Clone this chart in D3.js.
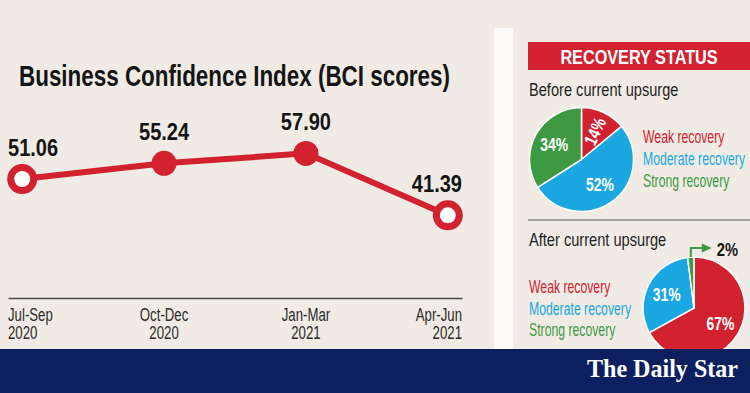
<!DOCTYPE html>
<html>
<head>
<meta charset="utf-8">
<script src="https://cdn.jsdelivr.net/npm/d3@7"></script>
<style>
body { margin: 0; background: #f0ece5; }
svg { display: block; }
text { font-family: "Liberation Sans", Arial, sans-serif; }
</style>
</head>
<body>
<script>
var width = 750, height = 393;

/** line chart data **/
var quarters = ["Jul-Sep", "Oct-Dec", "Jan-Mar", "Apr-Jun"];
var years = ["2020", "2020", "2021", "2021"];
var bciScores = [51.06, 55.24, 57.90, 41.39];

/** pie data **/
var recoveryLabels = ["Weak recovery", "Moderate recovery", "Strong recovery"];
var beforeShares = [14, 52, 34];
var afterShares = [67, 31, 2];

var red = "#d2212f", blue = "#1ba7e2", green = "#3d9a43";
var colors = [red, blue, green];

var svg = d3.select("body").append("svg")
    .attr("width", width).attr("height", height);

svg.append("rect").attr("width", width).attr("height", height).attr("fill", "#f0ece5");

// the original face is a condensed one: work out how much to squeeze ours
function natural(t, size, weight) {
    var n = svg.append("text").attr("font-size", size).attr("font-weight", weight).text(t);
    var w = n.node().getComputedTextLength();
    n.remove();
    return w;
}
var kBold = 431 / natural("Business Confidence Index (BCI scores)", 29, "bold");
var kReg = 102 / natural("Moderate recovery", 17.5, "normal");

function squeeze(sel, mult) {
    sel.each(function () {
        var s = d3.select(this);
        var k = (s.attr("font-weight") == "bold" ? kBold : kReg) * (mult || 1);
        s.attr("textLength", this.getComputedTextLength() * k).attr("lengthAdjust", "spacingAndGlyphs");
    });
}

/** title **/
svg.append("text")
    .attr("x", 19).attr("y", 85.5)
    .attr("font-size", 29).attr("font-weight", "bold").attr("fill", "#151515")
    .text("Business Confidence Index (BCI scores)")
    .call(squeeze);

/** line chart **/
var x = d3.scalePoint().domain(quarters).range([8, 462]).padding(0.1);
var y = d3.scaleLinear().domain([40, 60]).range([220.5, 145.5]);

var axis = svg.append("g")
    .attr("transform", "translate(0,298)")
    .call(d3.axisBottom(x).tickSize(0).tickSizeOuter(0).tickFormat(""));
axis.select(".domain").attr("stroke", "#4a4a4a").attr("stroke-width", 1.6);
axis.selectAll(".tick text").remove();

var last = quarters.length - 1;
function anchorOf(i) { return i == 0 ? "start" : i == last ? "end" : "middle"; }
function labelX(i) { return i == 0 ? x.range()[0] : i == last ? x.range()[1] : x(quarters[i]); }

quarters.forEach(function (q, i) {
    [q, years[i]].forEach(function (t, j) {
        svg.append("text")
            .attr("x", labelX(i)).attr("y", 320.5 + j * 18)
            .attr("text-anchor", anchorOf(i))
            .attr("font-size", 17.5).attr("font-weight", "normal").attr("fill", "#2b2b2b")
            .text(t)
            .call(squeeze, 1.08);
    });
});

var line = d3.line()
    .x(function (d, i) { return x(quarters[i]); })
    .y(function (d) { return y(d); });

svg.append("path")
    .datum(bciScores)
    .attr("d", line)
    .attr("fill", "none")
    .attr("stroke", red)
    .attr("stroke-width", 6);

svg.selectAll("circle.pt")
    .data(bciScores)
    .enter().append("circle")
    .attr("class", "pt")
    .attr("cx", function (d, i) { return x(quarters[i]); })
    .attr("cy", function (d) { return y(d); })
    .attr("r", function (d, i) { return (i == 0 || i == last) ? 11.5 : 12.5; })
    .attr("fill", function (d, i) { return (i == 0 || i == last) ? "#fff" : red; })
    .attr("stroke", red)
    .attr("stroke-width", function (d, i) { return (i == 0 || i == last) ? 7 : 0; });

bciScores.forEach(function (v, i) {
    svg.append("text")
        .attr("x", labelX(i)).attr("y", y(v) - 23)
        .attr("text-anchor", anchorOf(i))
        .attr("font-size", 24).attr("font-weight", "bold").attr("fill", "#151515")
        .text(v.toFixed(2))
        .call(squeeze, 1.08);
});

/** right panel **/
svg.append("rect").attr("x", 494).attr("y", 28).attr("width", 19).attr("height", 322).attr("fill", "#fcfbf9");

svg.append("rect").attr("x", 528).attr("y", 42).attr("width", 222).attr("height", 28).attr("fill", red);
svg.append("text")
    .attr("x", 639).attr("y", 64).attr("text-anchor", "middle")
    .attr("font-size", 21).attr("font-weight", "bold").attr("fill", "#fff")
    .text("RECOVERY STATUS")
    .call(squeeze);

function subtitle(t, yy) {
    svg.append("text")
        .attr("x", 529).attr("y", yy)
        .attr("font-size", 19).attr("font-weight", "normal").attr("fill", "#1e1e1e")
        .text(t)
        .call(squeeze, 1.1);
}
subtitle("Before current upsurge", 95.5);
subtitle("After current upsurge", 246);

svg.append("line")
    .attr("x1", 528).attr("x2", 750).attr("y1", 220).attr("y2", 220)
    .attr("stroke", "#8a8a8a").attr("stroke-width", 1.5);

function legend(lx, ly, step) {
    recoveryLabels.forEach(function (t, i) {
        svg.append("text")
            .attr("x", lx).attr("y", ly + i * step)
            .attr("font-size", 17.5).attr("font-weight", "normal").attr("fill", colors[i])
            .text(t)
            .call(squeeze);
    });
}
legend(643, 143, 22);
legend(529, 293, 21.5);

var pie = d3.pie().sort(null).value(function (d) { return d; });

function drawPie(shares, cx, cy, r) {
    var g = svg.append("g").attr("transform", "translate(" + cx + "," + cy + ")");
    var arc = d3.arc().innerRadius(0).outerRadius(r);
    var labelArc = d3.arc().innerRadius(r * 0.6).outerRadius(r * 0.6);
    var arcs = pie(shares);

    g.selectAll("path")
        .data(arcs)
        .enter().append("path")
        .attr("d", arc)
        .attr("fill", function (d, i) { return colors[i]; })
        .attr("stroke", "#fff")
        .attr("stroke-width", 1.5);

    g.selectAll("text")
        .data(arcs.filter(function (d) { return d.data >= 5; }))
        .enter().append("text")
        .attr("transform", function (d) {
            var c = labelArc.centroid(d);
            var s = "translate(" + c + ")";
            if (d.data < 20) s += " rotate(" + ((d.startAngle + d.endAngle) / 2 * 180 / Math.PI - 90) + ")";
            return s;
        })
        .attr("text-anchor", "middle")
        .attr("dy", "0.36em")
        .attr("font-size", 18).attr("font-weight", "bold").attr("fill", "#fff")
        .text(function (d) { return d.data + "%"; })
        .call(squeeze);

    // callout for slivers
    arcs.filter(function (d) { return d.data < 5; }).forEach(function (d) {
        var a = (d.startAngle + d.endAngle) / 2;
        var px = r * Math.sin(a), py = -r * Math.cos(a);
        var ty = py - 9, tx = px + 12;
        g.append("path")
            .attr("d", "M" + px + "," + py + "V" + ty + "H" + tx)
            .attr("fill", "none").attr("stroke", green).attr("stroke-width", 2);
        g.append("path")
            .attr("d", "M" + (tx - 1) + "," + (ty - 4.5) + "L" + (tx + 9) + "," + ty + "L" + (tx - 1) + "," + (ty + 4.5) + "Z")
            .attr("fill", green);
        g.append("text")
            .attr("x", tx + 14).attr("y", ty + 7.5)
            .attr("font-size", 19).attr("font-weight", "bold").attr("fill", "#151515")
            .text(d.data + "%")
            .call(squeeze);
    });
}

drawPie(beforeShares, 581.5, 159.5, 52);
drawPie(afterShares, 694, 308, 51);

/** footer **/
svg.append("rect").attr("x", 0).attr("y", 349).attr("width", width).attr("height", 44).attr("fill", "#0c1f5e");
svg.append("text")
    .attr("x", 738).attr("y", 377).attr("text-anchor", "end")
    .style("font-family", "'Liberation Serif', 'DejaVu Serif', serif")
    .attr("font-size", 25).attr("font-weight", "bold").attr("fill", "#fff")
    .attr("textLength", 151).attr("lengthAdjust", "spacingAndGlyphs")
    .text("The Daily Star");
</script>
</body>
</html>
